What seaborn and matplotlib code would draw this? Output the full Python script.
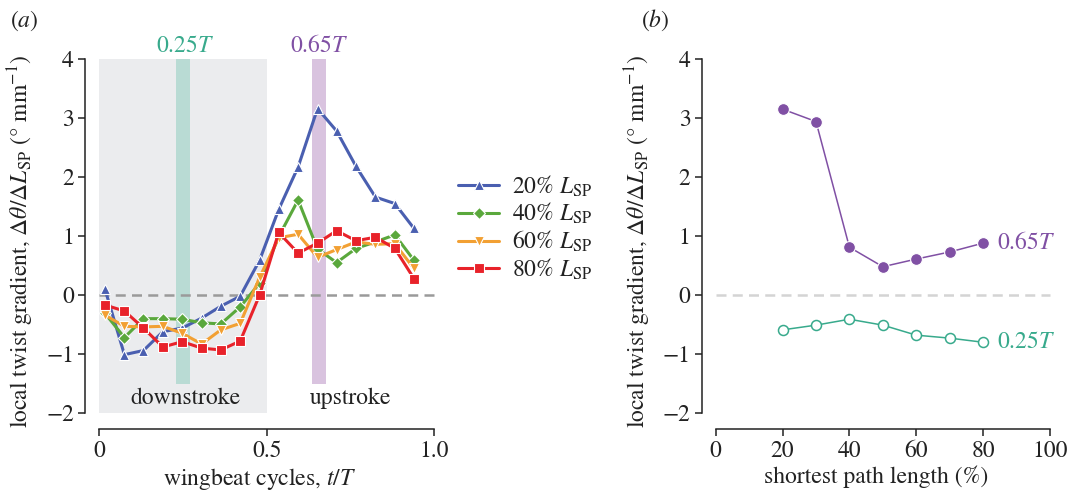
import numpy as np
import pandas as pd
import matplotlib
matplotlib.use("Agg")
import matplotlib.pyplot as plt
import seaborn as sns

# ---- data -------------------------------------------------------------
phase = [0.017, 0.075, 0.132, 0.190, 0.248, 0.306, 0.363, 0.421, 0.479,
         0.536, 0.594, 0.652, 0.709, 0.767, 0.825, 0.883, 0.940]
grad_20 = [0.10, -1.01, -0.94, -0.62, -0.56, -0.39, -0.19, -0.02, 0.59,
           1.45, 2.17, 3.16, 2.78, 2.18, 1.66, 1.55, 1.13]
grad_40 = [-0.31, -0.72, -0.40, -0.40, -0.41, -0.47, -0.49, -0.20, 0.20,
           0.99, 1.61, 0.78, 0.55, 0.79, 0.90, 1.02, 0.59]
grad_60 = [-0.34, -0.53, -0.54, -0.53, -0.65, -0.83, -0.59, -0.48, 0.30,
           0.97, 1.03, 0.64, 0.77, 0.90, 0.86, 0.87, 0.45]
grad_80 = [-0.17, -0.27, -0.56, -0.88, -0.79, -0.90, -0.93, -0.78, 0.00,
           1.06, 0.71, 0.88, 1.09, 0.92, 0.98, 0.79, 0.28]
series_labels = ["20% $L_{\\rm SP}$", "40% $L_{\\rm SP}$",
                 "60% $L_{\\rm SP}$", "80% $L_{\\rm SP}$"]

path_len = [20, 30, 40, 50, 60, 70, 80]
grad_065T = [3.15, 2.94, 0.81, 0.48, 0.61, 0.73, 0.88]
grad_025T = [-0.59, -0.51, -0.41, -0.51, -0.68, -0.73, -0.80]

# ---- style --------------------------------------------------------------
FS = 17
sns.set_theme(style="ticks")
plt.rcParams["font.family"] = ["STIXGeneral", "DejaVu Serif"]
plt.rcParams["mathtext.fontset"] = "stix"
plt.rcParams["font.size"] = FS
plt.rcParams["axes.labelsize"] = FS
plt.rcParams["xtick.labelsize"] = FS
plt.rcParams["ytick.labelsize"] = FS
plt.rcParams["text.color"] = "#222222"
plt.rcParams["axes.labelcolor"] = "#222222"
plt.rcParams["xtick.color"] = "#222222"
plt.rcParams["ytick.color"] = "#222222"
plt.rcParams["axes.edgecolor"] = "#222222"

C_BLUE, C_GREEN, C_ORANGE, C_RED = "#4a5fb0", "#5aa83c", "#f2a033", "#e8222a"
C_TEAL, C_PURPLE = "#38aa8c", "#8050a4"

W, H = 1074, 494
fig = plt.figure(figsize=(W / 100, H / 100), dpi=100)

def frame(px_left, px_right, px_top, px_bottom):
    return fig.add_axes([px_left / W, 1 - px_bottom / H,
                         (px_right - px_left) / W, (px_bottom - px_top) / H])

ylim = (-2.27, 4.10)
ax1 = frame(85, 434, 53.1, 429)
ax2 = frame(701.7, 1050, 53.1, 429)

# ---- panel (a) ---------------------------------------------------------
ax1.set_xlim(-0.0427, 1.0)
ax1.set_ylim(*ylim)
ax1.axvspan(0, 0.5, ymin=(-2 - ylim[0]) / (ylim[1] - ylim[0]),
            ymax=(4 - ylim[0]) / (ylim[1] - ylim[0]),
            color="#ebecee", lw=0, zorder=0)
band_lo = (-1.5 - ylim[0]) / (ylim[1] - ylim[0])
band_hi = (4 - ylim[0]) / (ylim[1] - ylim[0])
ax1.axvspan(0.229, 0.271, ymin=band_lo, ymax=band_hi, color="#b9dbd4", lw=0, zorder=1)
ax1.axvspan(0.635, 0.677, ymin=band_lo, ymax=band_hi, color="#d9c3df", lw=0, zorder=1)
ax1.plot([0, 1.0], [0, 0], ls=(0, (4, 2.5)), color="#9a9a9a", lw=1.8, zorder=2,
         clip_on=False)

specs = [(grad_20, C_BLUE, "^"), (grad_40, C_GREEN, "D"),
         (grad_60, C_ORANGE, "v"), (grad_80, C_RED, "s")]
for (vals, col, mk), lab in zip(specs, series_labels):
    df = pd.DataFrame({"phase": phase, "grad": vals})
    ms = 6.3 if mk == "D" else 7.8
    sns.lineplot(data=df, x="phase", y="grad", ax=ax1, color=col, lw=2.2,
                 marker=mk, markersize=ms, markeredgecolor="white",
                 markeredgewidth=0.8, label=lab, zorder=3, clip_on=False)

ax1.text(0.257, 4.12, "0.25$T$", color=C_TEAL, ha="center", va="baseline")
ax1.text(0.656, 4.12, "0.65$T$", color=C_PURPLE, ha="center", va="baseline")
ax1.text(0.257, -1.84, "downstroke", ha="center", va="baseline")
ax1.text(0.75, -1.84, "upstroke", ha="center", va="baseline")

ax1.set_xticks([0, 0.5, 1.0])
ax1.set_xticklabels(["0", "0.5", "1.0"])
ax1.set_yticks(range(-2, 5))
ax1.set_yticklabels(["\u22122", "\u22121", "0", "1", "2", "3", "4"])
ax1.set_xlabel("wingbeat cycles, $t/T$", labelpad=3)
ax1.set_ylabel("local twist gradient, $\\Delta\\theta/\\Delta L_{\\rm SP}$ (\u00b0 mm$^{-1}$)",
               labelpad=7)

leg = ax1.legend(loc="upper left", bbox_to_anchor=(449 / W, 1 - 164 / H),
                 bbox_transform=fig.transFigure, frameon=False,
                 handlelength=1.7, handletextpad=0.55, labelspacing=0.1,
                 borderaxespad=0, fontsize=FS)

# ---- panel (b) ---------------------------------------------------------
ax2.set_xlim(-4.19, 100)
ax2.set_ylim(*ylim)
ax2.plot([0, 100], [0, 0], ls=(0, (4, 2.5)), color="#d4d4d4", lw=1.8, zorder=1,
         clip_on=False)
df_b = pd.DataFrame({"path": path_len, "g65": grad_065T, "g25": grad_025T})
sns.lineplot(data=df_b, x="path", y="g65", ax=ax2, color=C_PURPLE, lw=1.1,
             marker="o", markersize=8.5, markeredgecolor="white",
             markeredgewidth=0.8, zorder=3)
sns.lineplot(data=df_b, x="path", y="g25", ax=ax2, color=C_TEAL, lw=1.1,
             marker="o", markersize=7.2, markerfacecolor="white",
             markeredgecolor=C_TEAL, markeredgewidth=1.1, zorder=3)
ax2.text(84.2, grad_065T[-1], "0.65$T$", color=C_PURPLE, ha="left", va="center")
ax2.text(84.2, grad_025T[-1], "0.25$T$", color=C_TEAL, ha="left", va="center")

ax2.set_xticks(range(0, 101, 20))
ax2.set_yticks(range(-2, 5))
ax2.set_yticklabels(["\u22122", "\u22121", "0", "1", "2", "3", "4"])
ax2.set_xlabel("shortest path length (%)", labelpad=3)
ax2.set_ylabel("local twist gradient, $\\Delta\\theta/\\Delta L_{\\rm SP}$ (\u00b0 mm$^{-1}$)",
               labelpad=7)

for ax, xb in ((ax1, (0, 1.0)), (ax2, (0, 100))):
    for s in ("top", "right"):
        ax.spines[s].set_visible(False)
    ax.spines["left"].set_bounds(-2, 4)
    ax.spines["bottom"].set_bounds(*xb)
    ax.spines["left"].set_linewidth(1.1)
    ax.spines["bottom"].set_linewidth(1.1)
    ax.tick_params(direction="out", length=5, width=1.1, pad=3)
    ax.set_facecolor("none")

fig.text(10 / W, 1 - 27 / H, "($a$)", ha="left", va="baseline")
fig.text(641 / W, 1 - 27 / H, "($b$)", ha="left", va="baseline")

fig.savefig("out.png", dpi=100)
